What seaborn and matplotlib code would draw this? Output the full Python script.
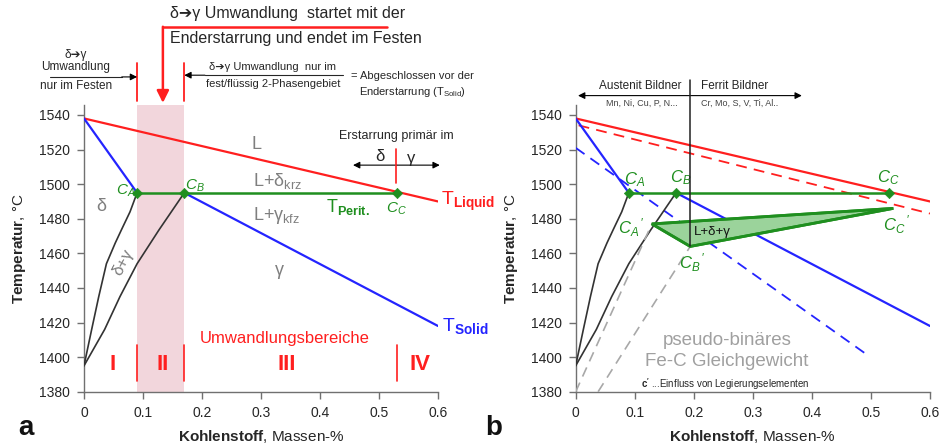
import numpy as np
import matplotlib
matplotlib.use("Agg")
import matplotlib.pyplot as plt
import seaborn as sns

# CONFIGURATION
sns.set_theme(style="ticks")
plt.rcParams['font.family'] = ['Liberation Sans', 'DejaVu Sans']
plt.rcParams['mathtext.fontset'] = 'custom'
plt.rcParams['mathtext.rm'] = 'Liberation Sans'
plt.rcParams['mathtext.it'] = 'Liberation Sans:italic'
plt.rcParams['mathtext.bf'] = 'Liberation Sans:bold'

RED = '#ff1f1f'
BLUE = '#2424ff'
GREEN = '#1f8f1f'
GRAY = '#7f7f7f'
DARK = '#262626'
PINK = '#f2d6dc'
ARR = '\u2794'  # heavy arrow, falls back to DejaVu Sans

# --- data: carbon in mass-%, temperature in °C ---
liquidus_c = [0.0, 0.6]
liquidus_t = [1538, 1490]
solidus_delta_c = [0.0, 0.09]
solidus_delta_t = [1538, 1495]
solidus_gamma_c = [0.17, 0.6]
solidus_gamma_t = [1495, 1418]
delta_bound_c = [0.0, 0.013, 0.025, 0.038, 0.053, 0.064, 0.078, 0.09]
delta_bound_t = [1395, 1416, 1435, 1454, 1466, 1474, 1484, 1495]
gamma_bound_c = [0.0, 0.035, 0.061, 0.09, 0.127, 0.17]
gamma_bound_t = [1395, 1416, 1435, 1454, 1473.5, 1495]
perit_c = [0.09, 0.17, 0.53]          # C_A, C_B, C_C
perit_t = [1495, 1495, 1495]
zone_bounds = [0.09, 0.17, 0.53]
zone_names = ['I', 'II', 'III', 'IV']

# shifted lines (influence of alloying elements)
liquidus2_c = [0.005, 0.6]
liquidus2_t = [1534, 1483]
solidus2_c = [0.0, 0.495]
solidus2_t = [1521, 1401]
triangle_c = [0.129, 0.194, 0.538]    # C_A', C_B', C_C'
triangle_t = [1477, 1464, 1486]
grey1_c = [0.0, 0.129]
grey1_t = [1380, 1477]
grey2_c = [0.038, 0.194]
grey2_t = [1380, 1464]

xtick_vals = [0, 0.1, 0.2, 0.3, 0.4, 0.5, 0.6]
xtick_labels = ['0', '0.1', '0.2', '0.3', '0.4', '0.5', '0.6']
ytick_vals = [1380, 1400, 1420, 1440, 1460, 1480, 1500, 1520, 1540]


def style_axes(ax):
    ax.set_xlim(0, 0.6)
    ax.set_ylim(1380, 1546)
    ax.set_xticks(xtick_vals)
    ax.set_xticklabels(xtick_labels)
    ax.set_yticks(ytick_vals)
    for s in ['top', 'right']:
        ax.spines[s].set_visible(False)
    for s in ['left', 'bottom']:
        ax.spines[s].set_color('#707070')
        ax.spines[s].set_linewidth(1)
    ax.tick_params(length=5, width=1, color='#707070', labelsize=10,
                   labelcolor=DARK, pad=5)
    ax.set_ylabel(r'$\mathbf{Temperatur}$, °C', fontsize=11, color=DARK)
    ax.set_xlabel(r'$\mathbf{Kohlenstoff}$, Massen-%', fontsize=11, color=DARK)
    ax.yaxis.set_label_coords(-0.158, 0.5)
    ax.xaxis.set_label_coords(0.5, -0.125)


def line(ax, c, t, color, lw=1.6, ls='-', z=3):
    sns.lineplot(x=c, y=t, ax=ax, color=color, lw=lw, linestyle=ls,
                 sort=False, estimator=None, zorder=z)


def arrow(ax, x0, y0, x1, y1, color='black', lw=0.8, ms=10, style='-|>'):
    ax.annotate('', xy=(x1, y1), xytext=(x0, y0), annotation_clip=False,
                arrowprops=dict(arrowstyle=style, color=color, lw=lw,
                                mutation_scale=ms, shrinkA=0, shrinkB=0))


fig = plt.figure(figsize=(9.47, 4.47), dpi=100)
ax1 = fig.add_axes([0.0887, 0.1237, 0.3738, 0.6423])
ax2 = fig.add_axes([0.6079, 0.1237, 0.3741, 0.6423])

# ---------------- panel a ----------------
ax = ax1
ax.axvspan(zone_bounds[0], zone_bounds[1], color=PINK, zorder=0, lw=0)
line(ax, liquidus_c, liquidus_t, RED)
line(ax, solidus_delta_c, solidus_delta_t, BLUE)
line(ax, solidus_gamma_c, solidus_gamma_t, BLUE)
line(ax, delta_bound_c, delta_bound_t, '#333333', lw=1.2)
line(ax, gamma_bound_c, gamma_bound_t, '#333333', lw=1.2)
line(ax, perit_c, perit_t, GREEN, lw=1.8)
sns.scatterplot(x=perit_c, y=perit_t, ax=ax, marker='D', s=28, color=GREEN,
                edgecolor=GREEN, zorder=5)
style_axes(ax)

for xb in zone_bounds:
    ax.plot([xb, xb], [1386, 1407], color=RED, lw=1.2, zorder=4)
for name, xc in zip(zone_names, [0.048, 0.134, 0.343, 0.57]):
    ax.text(xc, 1396, name, color=RED, fontsize=16, fontweight='bold',
            ha='center', va='center')
ax.text(0.341, 1411, 'Umwandlungsbereiche', color=RED, fontsize=12,
        ha='center', va='center')

ax.text(0.292, 1523, 'L', color=GRAY, fontsize=13, ha='center', va='center')
ax.text(0.286, 1502, r'L+δ$_{\mathrm{krz}}$', color=GRAY, fontsize=13, va='center')
ax.text(0.286, 1482, r'L+γ$_{\mathrm{kfz}}$', color=GRAY, fontsize=13, va='center')
ax.text(0.03, 1487, 'δ', color=GRAY, fontsize=13, ha='center', va='center')
ax.text(0.332, 1450, 'γ', color=GRAY, fontsize=13, ha='center', va='center')
ax.text(0.067, 1455, 'δ+γ', color=GRAY, fontsize=12, ha='center', va='center',
        rotation=62)
ax.text(0.447, 1487, r'T$_{\mathbf{Perit.}}$', color=GREEN, fontsize=13,
        ha='center', va='center')
ax.text(0.087, 1496, r'$C_A$', color=GREEN, fontsize=11, ha='right', va='center')
ax.text(0.188, 1499, r'$C_B$', color=GREEN, fontsize=11, ha='center', va='center')
ax.text(0.529, 1486, r'$C_C$', color=GREEN, fontsize=11, ha='center', va='center')
ax.text(0.605, 1490, r'T$_{\mathbf{Liquid}}$', color=RED, fontsize=14,
        va='center', clip_on=False)
ax.text(0.607, 1418, r'T$_{\mathbf{Solid}}$', color=BLUE, fontsize=14,
        va='center', clip_on=False)

# primary solidification
ax.text(0.529, 1528, 'Erstarrung primär im', color=DARK, fontsize=9,
        ha='center', va='center')
arrow(ax, 0.53, 1511, 0.456, 1511)
arrow(ax, 0.53, 1511, 0.603, 1511)
ax.plot([0.528, 0.528], [1500.5, 1520.5], color=RED, lw=1.2, zorder=4)
ax.text(0.501, 1516, 'δ', color=DARK, fontsize=12, ha='center', va='center')
ax.text(0.555, 1515, 'γ', color=DARK, fontsize=12, ha='center', va='center')

# annotations above panel a
for xb in zone_bounds[:2]:
    ax.plot([xb, xb], [1548, 1570], color=RED, lw=1.3, clip_on=False)
ax.text(-0.0135, 1574.5, 'δ' + ARR + 'γ', color=DARK, fontsize=8.5, ha='center', va='center')
ax.text(-0.0135, 1567.5, 'Umwandlung', color=DARK, fontsize=8.5, ha='center', va='center')
ax.plot([-0.058, 0.064], [1562, 1562], color=DARK, lw=0.8, clip_on=False)
ax.text(-0.0135, 1556.5, 'nur im Festen', color=DARK, fontsize=8.5, ha='center', va='center')
arrow(ax, 0.064, 1562, 0.09, 1562)

ax.text(0.32, 1568, 'δ' + ARR + 'γ Umwandlung  nur im', color=DARK, fontsize=8,
        ha='center', va='center')
ax.plot([0.205, 0.4385], [1563, 1563], color=DARK, lw=0.8, clip_on=False)
ax.text(0.32, 1558, 'fest/flüssig 2-Phasengebiet', color=DARK, fontsize=8,
        ha='center', va='center')
arrow(ax, 0.205, 1563, 0.17, 1563)
ax.text(0.557, 1562.5, '= Abgeschlossen vor der', color=DARK, fontsize=8,
        ha='center', va='center')
ax.text(0.557, 1553.3, r'Enderstarrung (T$_{\mathrm{Solid}}$)', color=DARK,
        fontsize=8, ha='center', va='center')

ax.plot([0.1337, 0.513], [1591, 1591], color=RED, lw=1.8, clip_on=False)
arrow(ax, 0.1337, 1591, 0.1337, 1547, color=RED, lw=1.8, ms=18)
ax.text(0.146, 1598.5, 'δ' + ARR + 'γ Umwandlung  startet mit der', color=DARK,
        fontsize=11.5, va='center')
ax.text(0.146, 1584.5, 'Enderstarrung und endet im Festen', color=DARK,
        fontsize=11.5, va='center')

# ---------------- panel b ----------------
ax = ax2
line(ax, liquidus_c, liquidus_t, RED)
line(ax, liquidus2_c, liquidus2_t, RED, lw=1.3, ls=(0, (6, 4)))
line(ax, solidus_delta_c, solidus_delta_t, BLUE)
line(ax, solidus_gamma_c, solidus_gamma_t, BLUE)
line(ax, solidus2_c, solidus2_t, BLUE, lw=1.3, ls=(0, (6, 4)))
line(ax, delta_bound_c, delta_bound_t, '#333333', lw=1.2)
line(ax, gamma_bound_c, gamma_bound_t, '#333333', lw=1.2)
line(ax, grey1_c, grey1_t, '#a8a8a8', lw=1.2, ls=(0, (6, 4)))
line(ax, grey2_c, grey2_t, '#a8a8a8', lw=1.2, ls=(0, (6, 4)))
ax.fill(triangle_c, triangle_t, facecolor='#9bd39b', edgecolor=GREEN,
        lw=2, alpha=1, zorder=3)
ax.fill(triangle_c, triangle_t, facecolor='none', edgecolor=GREEN,
        lw=2, zorder=4)
line(ax, [perit_c[0], perit_c[2]], [perit_t[0], perit_t[2]], GREEN, lw=1.8)
sns.scatterplot(x=perit_c, y=perit_t, ax=ax, marker='D', s=28, color=GREEN,
                edgecolor=GREEN, zorder=5)
ax.plot([triangle_c[1], triangle_c[1]], [triangle_t[1], 1560], color='#222222',
        lw=1.1, clip_on=False, zorder=4)
style_axes(ax)

ax.text(0.1, 1497, r'$C_A$', color=GREEN, fontsize=12, ha='center', va='bottom')
ax.text(0.177, 1498.5, r'$C_B$', color=GREEN, fontsize=12, ha='center', va='bottom')
ax.text(0.529, 1498.5, r'$C_C$', color=GREEN, fontsize=12, ha='center', va='bottom')
ax.text(0.095, 1475, r"$C_A\,'$", color=GREEN, fontsize=12, ha='center', va='center')
ax.text(0.197, 1454.5, r"$C_B\,'$", color=GREEN, fontsize=12, ha='center', va='center')
ax.text(0.543, 1476.5, r"$C_C\,'$", color=GREEN, fontsize=12, ha='center', va='center')
ax.text(0.2, 1472.5, 'L+δ+γ', color='#111111', fontsize=9.5, va='center')
ax.text(0.256, 1409.5, 'pseudo-binäres', color='#a0a0a0', fontsize=13.5,
        ha='center', va='center')
ax.text(0.256, 1397.5, 'Fe-C Gleichgewicht', color='#a0a0a0', fontsize=13.5,
        ha='center', va='center')
ax.text(0.253, 1384.5, r"$\mathbf{c'}$ ...Einfluss von Legierungselementen",
        color=DARK, fontsize=7, ha='center', va='center')

# alloying element groups above panel b
arrow(ax, 0.1935, 1551.2, 0.004, 1551.2)
arrow(ax, 0.1935, 1551.2, 0.383, 1551.2)
ax.text(0.109, 1556.5, 'Austenit Bildner', color=DARK, fontsize=8.5,
        ha='center', va='center')
ax.text(0.27, 1556.5, 'Ferrit Bildner', color=DARK, fontsize=8.5,
        ha='center', va='center')
ax.text(0.112, 1547, 'Mn, Ni, Cu, P, N...', color='#444444', fontsize=6.5,
        ha='center', va='center')
ax.text(0.278, 1547, 'Cr, Mo, S, V, Ti, Al..', color='#444444', fontsize=6.5,
        ha='center', va='center')

fig.text(26 / 947, 1 - 428 / 447, 'a', fontsize=20, fontweight='bold',
         color='#111111', ha='center', va='center')
fig.text(494 / 947, 1 - 428 / 447, 'b', fontsize=20, fontweight='bold',
         color='#111111', ha='center', va='center')

fig.savefig('out.png', dpi=100)
